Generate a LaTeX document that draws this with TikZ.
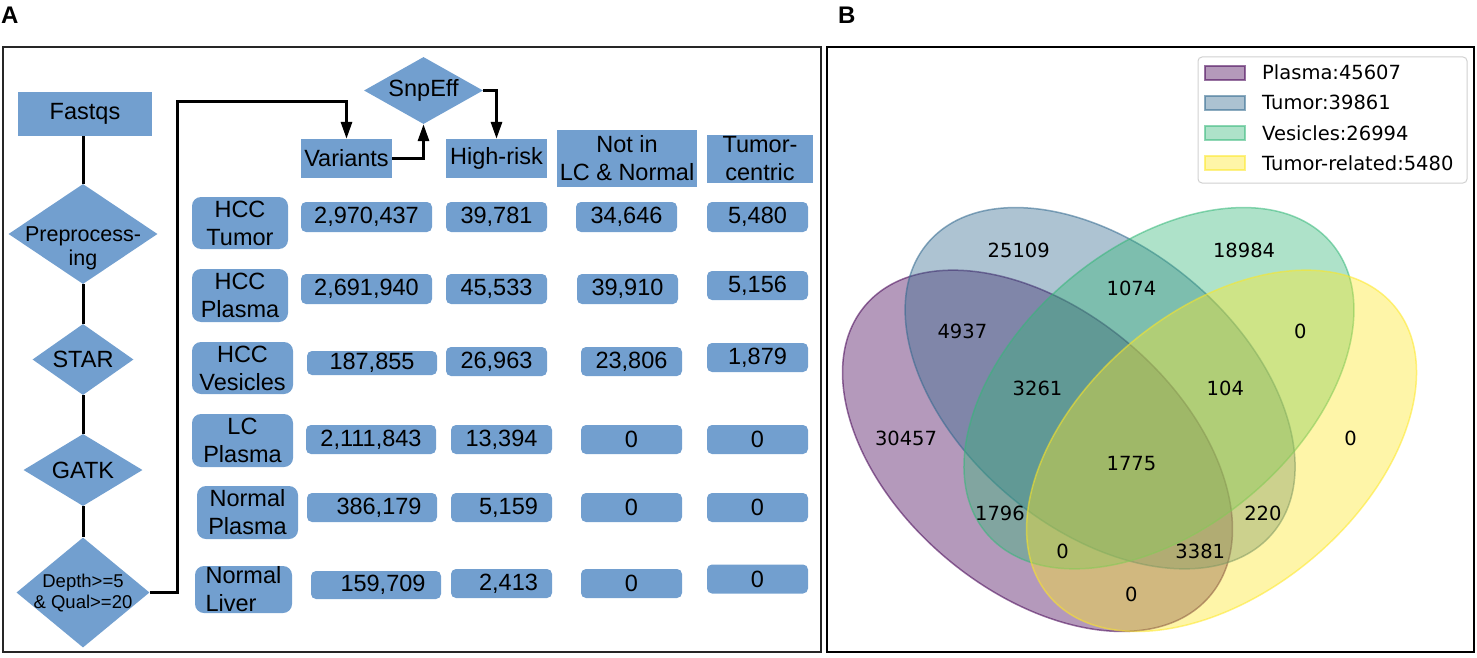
\documentclass[tikz,border=0pt]{standalone}
\usepackage{fontspec}
\setmainfont{Liberation Sans}
\newfontfamily\vennfont{DejaVu Sans}
\usepackage{xcolor}
\usepackage{tikz}
\usetikzlibrary{shapes.geometric}
\usetikzlibrary{arrows.meta}

\definecolor{cellblue}{RGB}{114,159,207}
\definecolor{vpurple}{HTML}{440154}
\definecolor{vblue}{HTML}{31688E}
\definecolor{vgreen}{HTML}{35B779}
\definecolor{vyellow}{HTML}{FDE725}

\newcommand{\cellfont}{\fontsize{23.5}{28}\selectfont}
\newcommand{\vnumfont}{\vennfont\fontsize{19.5}{23}\selectfont}

\begin{document}
\begin{tikzpicture}[x=1pt,y=-1pt,
    box/.style={fill=cellblue,inner sep=0pt,align=center,font=\cellfont},
    rowbox/.style={box,rounded corners=9pt,minimum width=101pt,minimum height=53pt},
    numbox/.style={box,rounded corners=5pt,minimum width=101pt,minimum height=29pt},
    dia/.style={diamond,fill=cellblue,inner sep=0pt},
    dialab/.style={inner sep=0pt,align=center,font=\cellfont},
    link/.style={line width=3pt},
    arr/.style={link,-{Triangle[length=17pt,width=11pt]}},
    vset/.style={line width=1.5pt,fill opacity=0.4,draw opacity=0.55},
    vkey/.style={vset,minimum width=40pt,minimum height=14pt,inner sep=0pt},
    vnum/.style={inner sep=0pt,font=\vnumfont}]
    \useasboundingbox (0,0) rectangle (1477,658);

    %%% PANELS %%%
    \draw[line width=1.5pt,black!85] (3,47) rectangle (821,652);
    \draw[line width=2.5pt] (827,47) rectangle (1474,652);
    \node[anchor=north west,inner sep=0pt,font=\bfseries\fontsize{24}{28}\selectfont] (panelA) at (1,7) {A};
    \node[anchor=north west,inner sep=0pt,font=\bfseries\fontsize{24}{28}\selectfont] (panelB) at (838,7) {B};

    %%% PIPELINE %%%
    \node[box,minimum width=134pt,minimum height=44pt] (fastq) at (85,114) {Fastqs};
    \node[dia,minimum width=149pt,minimum height=100pt] (prep) at (83,234) {};
    \node[dia,minimum width=101pt,minimum height=71pt] (star) at (83,359.5) {};
    \node[dia,minimum width=119pt,minimum height=72pt] (gatk) at (83,470) {};
    \node[dia,minimum width=133pt,minimum height=110pt] (depth) at (83,592.5) {};
    \node[dia,minimum width=119pt,minimum height=67pt] (snpeff) at (423.5,90.5) {};
    \node[dialab,font=\fontsize{21.5}{24}\selectfont] (preptxt) at (83,248) {Preprocess-\\ing};
    \node[dialab] (startxt) at (star) {STAR};
    \node[dialab] (gatktxt) at (gatk) {GATK};
    \node[dialab,font=\fontsize{18.5}{21}\selectfont] (depthtxt) at (83,593) {Depth>=5\\\& Qual>=20};
    \node[dialab] (snpefftxt) at (snpeff) {SnpEff};

    \draw[link] (fastq.south -| prep.north) -- (prep.north);
    \draw[link] (prep.south) -- (star.north);
    \draw[link] (star.south) -- (gatk.north);
    \draw[link] (gatk.south) -- (depth.north);

    %%% HEADERS %%%
    \node[box,minimum width=91pt,minimum height=39pt] (variants) at (346.5,158.5) {Variants};
    \node[box,minimum width=101pt,minimum height=39pt] (highrisk) at (496.5,158.5) {High-risk};
    \node[box,minimum width=140pt,minimum height=57pt] (notin) at (627,158.5) {Not in\\LC \& Normal};
    \node[box,minimum width=106pt,minimum height=48pt] (tumcen) at (760,159) {Tumor-\\centric};

    \coordinate (turn) at (177,101.5);
    \draw[arr] (depth.east) -| (turn) -| (variants.north);
    \draw[arr] (variants.east) -| (snpeff.south);
    \draw[arr] (snpeff.east) -| (highrisk.north);

    %%% SAMPLES %%%
    \node[rowbox,minimum width=96pt,minimum height=52pt] (hcct) at (240,223) {HCC\\Tumor};
    \node[rowbox,minimum width=96pt] (hccp) at (240,295.5) {HCC\\Plasma};
    \node[rowbox,minimum height=52pt] (hccv) at (242.5,368) {HCC\\Vesicles};
    \node[rowbox] (lcp) at (242.5,440.5) {LC\\Plasma};
    \node[rowbox] (norp) at (247.5,512.5) {Normal\\Plasma};
    \node[rowbox,minimum width=97pt,minimum height=47pt,align=left] (norl) at (243.5,589.5) {Normal\\Liver};

    %%% COUNTS %%%
    \node[numbox,minimum width=131pt,minimum height=30pt] (v1) at (366.5,217) {2,970,437};
    \node[numbox,minimum height=30pt] (h1) at (496.5,217) {39,781};
    \node[numbox,minimum height=30pt] (n1) at (626.5,217) {34,646};
    \node[numbox,minimum height=30pt] (t1) at (757.5,217) {5,480};

    \node[numbox,minimum width=131pt,minimum height=30pt] (v2) at (366.5,289) {2,691,940};
    \node[numbox,minimum height=30pt] (h2) at (496.5,289) {45,533};
    \node[numbox,minimum height=30pt] (n2) at (627.5,289) {39,910};
    \node[numbox] (t2) at (757.5,285.5) {5,156};

    \node[numbox,minimum width=130pt,minimum height=24pt] (v3) at (372,363) {187,855};
    \node[numbox] (h3) at (496.5,361.5) {26,963};
    \node[numbox] (n3) at (631.5,361.5) {23,806};
    \node[numbox] (t3) at (757.5,357.5) {1,879};

    \node[numbox,minimum width=130pt] (v4) at (371,439.5) {2,111,843};
    \node[numbox] (h4) at (501.5,439.5) {13,394};
    \node[numbox] (n4) at (631.5,439.5) {0};
    \node[numbox] (t4) at (757.5,439.5) {0};

    \node[numbox,minimum width=130pt] (v5) at (372,507.5) {\hspace*{14pt}386,179};
    \node[numbox] (h5) at (501.5,507.5) {\hspace*{14pt}5,159};
    \node[numbox] (n5) at (631.5,507.5) {0};
    \node[numbox] (t5) at (757.5,507.5) {0};

    \node[numbox,minimum width=130pt,minimum height=28pt] (v6) at (376,585) {\hspace*{14pt}159,709};
    \node[numbox] (h6) at (501.5,583.5) {\hspace*{14pt}2,413};
    \node[numbox] (n6) at (631.5,583.5) {0};
    \node[numbox] (t6) at (757.5,579) {0};

    %%% VENN %%%
    \begin{scope}[shift={(818.4,701.2)},x=626pt,y=626pt]
        \filldraw[vset,draw=vpurple,fill=vpurple,rotate around={140:(0.35,0.40)}] (0.35,0.40) ellipse [x radius=0.36,y radius=0.225];
        \filldraw[vset,draw=vblue,fill=vblue,rotate around={140:(0.45,0.50)}] (0.45,0.50) ellipse [x radius=0.36,y radius=0.225];
        \filldraw[vset,draw=vgreen,fill=vgreen,rotate around={40:(0.544,0.50)}] (0.544,0.50) ellipse [x radius=0.36,y radius=0.225];
        \filldraw[vset,draw=vyellow,fill=vyellow,rotate around={40:(0.644,0.40)}] (0.644,0.40) ellipse [x radius=0.36,y radius=0.225];

        \node[vnum] (p1000) at (0.14,0.42) {30457};
        \node[vnum] (p0100) at (0.32,0.72) {25109};
        \node[vnum] (p0010) at (0.68,0.72) {18984};
        \node[vnum] (p0001) at (0.85,0.42) {0};
        \node[vnum] (p1100) at (0.23,0.59) {4937};
        \node[vnum] (p0110) at (0.50,0.66) {1074};
        \node[vnum] (p0011) at (0.77,0.59) {0};
        \node[vnum] (p1110) at (0.35,0.50) {3261};
        \node[vnum] (p0111) at (0.65,0.50) {104};
        \node[vnum] (p1111) at (0.50,0.38) {1775};
        \node[vnum] (p1010) at (0.29,0.30) {1796};
        \node[vnum] (p0101) at (0.71,0.30) {220};
        \node[vnum] (p1011) at (0.39,0.24) {0};
        \node[vnum] (p1101) at (0.61,0.24) {3381};
        \node[vnum] (p1001) at (0.50,0.17) {0};
    \end{scope}

    %%% LEGEND %%%
    \node[draw=black!18,fill=white,line width=1pt,rounded corners=4pt,minimum width=269pt,minimum height=126pt,inner sep=0pt] (legend) at (1332.5,120) {};
    \foreach \col/\name [count=\i] in {vpurple/Plasma:45607,vblue/Tumor:39861,vgreen/Vesicles:26994,vyellow/Tumor-related:5480}{
        \node[vkey,draw=\col,fill=\col] (key\i) at (1225,43+30*\i) {};
        \node[vnum,anchor=base west] (keytxt\i) at (1262,50+30*\i) {\name};
    }
\end{tikzpicture}
\end{document}
